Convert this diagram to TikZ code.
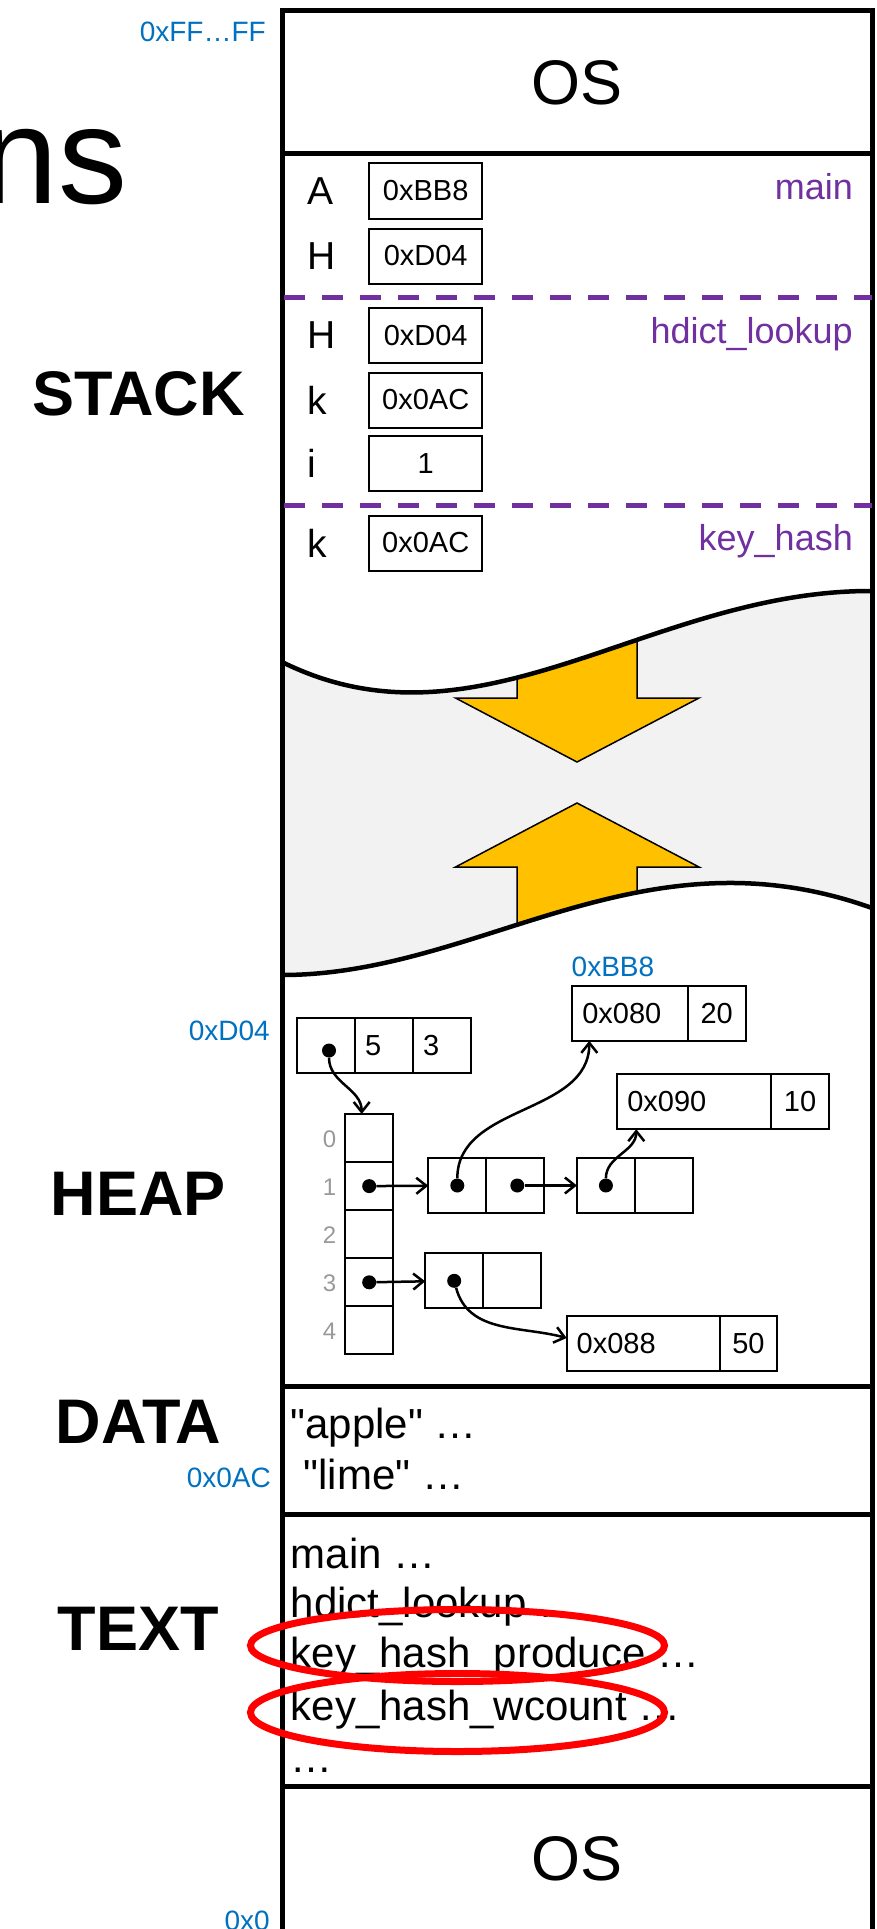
\documentclass[tikz,border=0pt]{standalone}
\usepackage{fontspec}
\setmainfont{Liberation Sans}
\usetikzlibrary{positioning}
\usetikzlibrary{arrows.meta}

\definecolor{addrblue}{HTML}{0070C0}
\definecolor{framepurple}{HTML}{7030A0}
\definecolor{growyellow}{HTML}{FFC000}
\definecolor{gapgray}{HTML}{F2F2F2}
\definecolor{idxgray}{HTML}{999999}
\newcommand{\fsz}[1]{\fontsize{#1}{#1}\selectfont}

\begin{document}
\begin{tikzpicture}[x=1pt,y=-1pt,>={Straight Barb[length=10pt,width=16pt]},
	seg line/.style={line width=5pt},
	cell node/.style={draw,line width=2pt,outer sep=0pt,inner xsep=10pt,inner ysep=0pt,minimum height=55pt,font=\fsz{29}},
	dot node/.style={circle,fill,inner sep=0pt,minimum size=14pt},
	var node/.style={anchor=west,inner sep=0pt,font=\fsz{39}},
	frame label/.style={anchor=base east,inner sep=0pt,text=framepurple,font=\fsz{36}},
	addr label/.style={anchor=base east,inner sep=0pt,text=addrblue,font=\fsz{28}},
	seg label/.style={anchor=base,inner sep=0pt,font=\fsz{63}\bfseries},
	code line/.style={anchor=base west,inner sep=0pt,font=\fsz{42}},
	idx node/.style={inner sep=0pt,text=idxgray,font=\fsz{24}}]

	\useasboundingbox (0,0) rectangle (876,1929);

	% free space between stack and heap
	\fill[gapgray] (282,662) .. controls (480,760) and (650,590) .. (872,591)
		-- (872,908) .. controls (640,825) and (480,975) .. (282,975) -- cycle;
	\begin{scope}
		\clip (282,662) .. controls (480,760) and (650,590) .. (872,591)
			-- (872,908) .. controls (640,825) and (480,975) .. (282,975) -- cycle;
		\filldraw[fill=growyellow,line width=1.5pt] (517,600) -- (517,698) -- (455.5,698) -- (577,762)
			-- (699,698) -- (637,698) -- (637,600) -- cycle;
		\filldraw[fill=growyellow,line width=1.5pt] (517,990) -- (517,867) -- (455.5,867) -- (577,803)
			-- (699,867) -- (637,867) -- (637,990) -- cycle;
	\end{scope}
	\draw[line width=4.5pt] (282,662) .. controls (480,760) and (650,590) .. (872,591);
	\draw[line width=4.5pt] (282,975) .. controls (480,975) and (640,825) .. (872,908);

	% memory column
	\draw[seg line] (282,11) rectangle (872,1940);
	\foreach \y in {154,1386,1514.5,1786.5}
		\draw[seg line] (282,\y) -- (872,\y);
	\foreach \y in {297,505}
		\draw[framepurple,line width=5pt,dash pattern=on 21pt off 17pt] (284,\y) -- (872,\y);

	\node[font=\fsz{63}] (ostop) at (577,83) {OS};
	\node[font=\fsz{63}] (osbot) at (577,1859) {OS};

	% left labels
	\node[anchor=base east,inner sep=0pt,font=\fsz{138}] (title) at (127.5,203.5) {ns};
	\node[addr label] (aFF) at (266,41.7) {0xFF…FF};
	\node[seg label] (lstack) at (138.5,415.5) {STACK};
	\node[addr label] (aD04) at (270,1040) {0xD04};
	\node[seg label] (lheap) at (138.5,1215) {HEAP};
	\node[seg label] (ldata) at (138.5,1443) {DATA};
	\node[addr label] (a0AC) at (271,1487.5) {0x0AC};
	\node[seg label] (ltext) at (138.5,1650) {TEXT};
	\node[addr label] (a0) at (270,1930) {0x0};

	% stack frames
	\node[cell node,minimum width=113pt] (mainA) at (425.7,191) {0xBB8};
	\node[cell node,minimum width=113pt] (mainH) at (425.7,256) {0xD04};
	\node[cell node,minimum width=113pt] (lookH) at (425.7,335.5) {0xD04};
	\node[cell node,minimum width=113pt] (lookk) at (425.7,400) {0x0AC};
	\node[cell node,minimum width=113pt] (looki) at (425.7,463.5) {1};
	\node[cell node,minimum width=113pt] (hashk) at (425.7,543) {0x0AC};
	\node[var node] (vmainA) at (307,191) {A};
	\node[var node] (vmainH) at (307,256) {H};
	\node[var node] (vlookH) at (307,335.5) {H};
	\node[var node] (vlookk) at (307,400) {k};
	\node[var node] (vlooki) at (307,463.5) {i};
	\node[var node] (vhashk) at (307,543) {k};
	\node[frame label] (fmain) at (853,200) {main};
	\node[frame label] (flook) at (853,343) {hdict\_lookup};
	\node[frame label] (fhash) at (853,550) {key\_hash};

	% heap
	\node[cell node,minimum width=58pt] (hd1) at (326,1045.5) {};
	\node[cell node,text width=38pt,align=left,right=0pt of hd1] (hd2) {5};
	\node[cell node,text width=38pt,align=left,right=0pt of hd2] (hd3) {3};
	\foreach \i in {0,...,4} {
		\node[cell node,minimum width=48.3pt,minimum height=48.1pt] (ar\i) at (369.2,1138+48.1*\i) {};
		\node[idx node] (ix\i) at (329.5,1139+48.1*\i) {\i};
	}
	\node[cell node,minimum width=58pt] (c1a) at (457.3,1185.5) {};
	\node[cell node,minimum width=58pt,right=0pt of c1a] (c1b) {};
	\node[cell node,minimum width=58pt] (c2a) at (605.9,1185.5) {};
	\node[cell node,minimum width=58pt,right=0pt of c2a] (c2b) {};
	\node[cell node,minimum width=58pt] (c3a) at (454.2,1280.8) {};
	\node[cell node,minimum width=58pt,right=0pt of c3a] (c3b) {};
	\node[addr label,anchor=base west] (aBB8) at (571.5,976.7) {0xBB8};
	\node[cell node,text width=95.4pt,align=left] (b80a) at (630,1013.4) {0x080};
	\node[cell node,minimum width=58pt,right=0pt of b80a] (b80b) {20};
	\node[cell node,text width=133.4pt,align=left] (b90a) at (694,1101.7) {0x090};
	\node[cell node,minimum width=58.6pt,right=0pt of b90a] (b90b) {10};
	\node[cell node,text width=133.3pt,align=left] (b88a) at (643.3,1343) {0x088};
	\node[cell node,minimum width=57pt,right=0pt of b88a] (b88b) {50};

	\node[dot node] (dh) at ([shift={(3,5)}]hd1.center) {};
	\node[dot node] (d1) at (ar1) {};
	\node[dot node] (d3) at (ar3) {};
	\node[dot node] (dc1a) at (c1a) {};
	\node[dot node] (dc1b) at ([xshift=2pt]c1b.center) {};
	\node[dot node] (dc2) at (c2a) {};
	\node[dot node] (dc3) at (c3a) {};

	\path[->,line width=2.5pt]
	(dh) edge [out=-90,in=90] ([xshift=-7.5pt]ar0.north)
	(d1) edge (c1a)
	(dc1a) edge [out=90,in=-90] ([xshift=17pt]b80a.south west)
	(dc1b) edge (c2a)
	(dc2) edge [out=90,in=-90] ([xshift=19pt]b90a.south west)
	(d3) edge (c3a)
	(dc3) edge [out=-75,in=165] ([yshift=5pt]b88a.west);

	% data and text
	\node[code line] (dapple) at (290.5,1438) {\textquotedbl apple\textquotedbl{} …};
	\node[code line] (dlime) at (303.5,1489) {\textquotedbl lime\textquotedbl{} …};
	\node[code line] (tmain) at (290.5,1568) {main …};
	\node[code line] (tlook) at (290.5,1617) {hdict\_lookup …};
	\node[code line] (tprod) at (290.5,1667) {key\_hash\_produce …};
	\node[code line] (twc) at (290.5,1720) {key\_hash\_wcount …};
	\node[code line] (tdots) at (290.5,1772) {…};
	\draw[red,line width=7pt] (457.5,1645.5) ellipse [x radius=207, y radius=36];
	\draw[red,line width=7pt] (457.5,1712.5) ellipse [x radius=207, y radius=39];
\end{tikzpicture}
\end{document}
